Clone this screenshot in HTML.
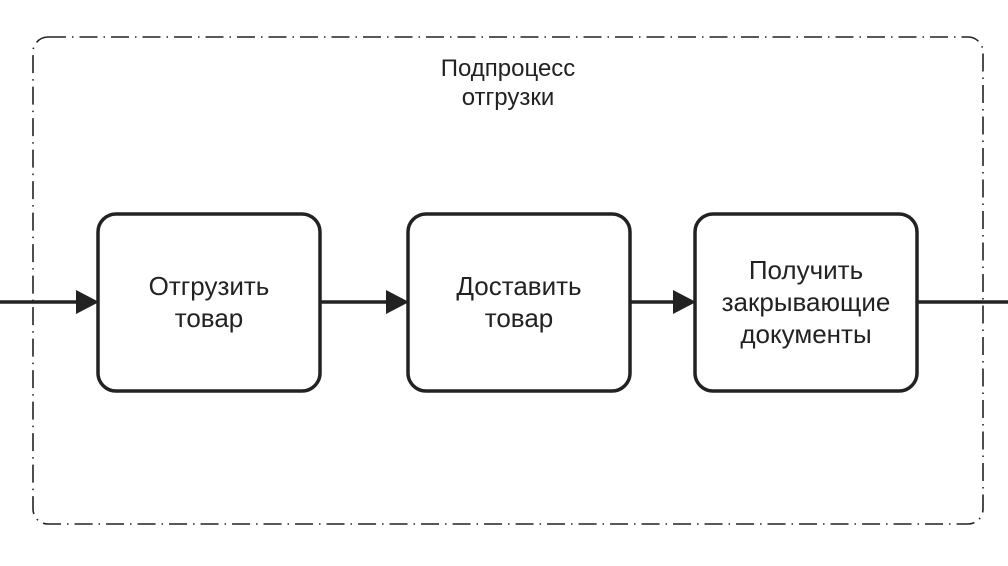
<!DOCTYPE html>
<html><head><meta charset="utf-8"><style>
html,body{margin:0;padding:0;background:#fff;}
svg{display:block;}
text{font-family:"Liberation Sans",Arial,sans-serif;fill:#222;}
</style></head><body>
<svg width="1008" height="566" viewBox="0 0 1008 566" xmlns="http://www.w3.org/2000/svg">
<rect x="33" y="37" width="950" height="487" rx="15" fill="none" stroke="#222" stroke-width="1.6" stroke-dasharray="18 6 1.5 6"/>
<text x="508" y="76" font-size="24" text-anchor="middle">Подпроцесс</text>
<text x="508" y="105" font-size="24" text-anchor="middle">отгрузки</text>
<g stroke="#222" stroke-width="3.5">
<line x1="0" y1="302" x2="80" y2="302"/>
<line x1="320" y1="302" x2="390" y2="302"/>
<line x1="630" y1="302" x2="677" y2="302"/>
<line x1="917" y1="302" x2="1008" y2="302"/>
</g>
<g fill="#222">
<polygon points="76,290 99,302 76,314"/>
<polygon points="386,290 409,302 386,314"/>
<polygon points="673,290 696,302 673,314"/>
</g>
<g fill="#fff" stroke="#222" stroke-width="3.5">
<rect x="98" y="214" width="222" height="177" rx="18"/>
<rect x="408" y="214" width="222" height="177" rx="18"/>
<rect x="695" y="214" width="222" height="177" rx="18"/>
</g>
<g font-size="26" text-anchor="middle">
<text x="209" y="295">Отгрузить</text>
<text x="209" y="327">товар</text>
<text x="519" y="295">Доставить</text>
<text x="519" y="327">товар</text>
<text x="806" y="279">Получить</text>
<text x="806" y="311">закрывающие</text>
<text x="806" y="343">документы</text>
</g>
</svg>
</body></html>
